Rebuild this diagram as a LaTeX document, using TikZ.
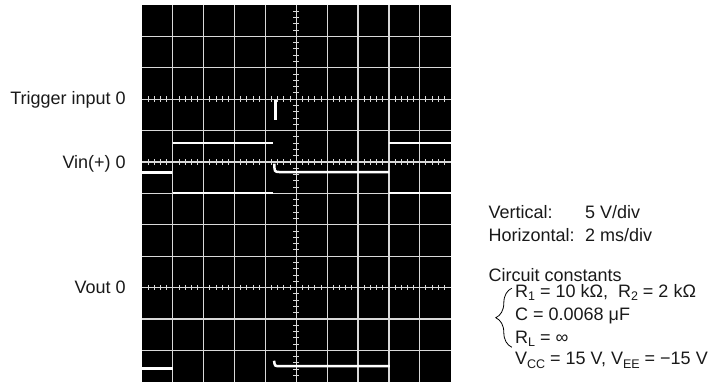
\documentclass[tikz,border=0pt]{standalone}
\usepackage{fontspec}
\setmainfont{Liberation Sans}
\usetikzlibrary{decorations.pathreplacing}
\newcommand{\lowidx}[1]{\raisebox{-0.35ex}{\fontsize{12.5bp}{12.5bp}\selectfont #1}}

\tikzset{
  grid line/.style={gray!30,line width=1.2bp},
  tick line/.style={gray!30,line width=1bp},
  trace/.style={white,line width=2.5bp},
  scope label/.style={font=\fontsize{18bp}{22bp}\selectfont,inner sep=0pt,text=black!90},
}

\begin{document}
\begin{tikzpicture}[x=30.87bp,y=-31.4bp]
 \useasboundingbox (-4.6,-0.159) rectangle (18.627,12.166);
 % screen and graticule
 \fill[black] (0,0) rectangle (10,12);
 \foreach \i in {1,...,9} \draw[grid line] (\i,0) -- (\i,12);
 \foreach \j in {1,...,11} \draw[grid line] (0,\j) -- (10,\j);
 \foreach \k in {1,...,59} \draw[tick line] (4.903,\k/5) -- (5.097,\k/5);
 \foreach \y in {3,5,9}
   \foreach \k in {1,...,49} \draw[tick line] (\k/5,\y-0.086) -- (\k/5,\y+0.086);

 % trigger
 \draw[trace] (4.33,3.04) -- (4.33,3.66);
 % input
 \draw[trace] (1.01,4.4) -- (4.25,4.4);
 \draw[trace] (8,4.4) -- (10,4.4);
 \draw[trace] (0,5.33) -- (0.96,5.33);
 \draw[trace] (4.29,5.05) .. controls (4.29,5.31) .. (4.45,5.32) -- (8,5.32);
 % output
 \draw[trace,line width=2bp] (1.01,6) -- (4.25,6);
 \draw[trace,line width=2bp] (8,6) -- (10,6);
 \draw[trace] (0,11.57) -- (1,11.57);
 \draw[trace] (4.28,11.33) .. controls (4.3,11.5) .. (4.45,11.5) -- (8.03,11.5);

 % channel labels
 \node[scope label,anchor=base east] (trig) at (-0.52,3.18) {Trigger input 0};
 \node[scope label,anchor=base east] (vin) at (-0.52,5.2) {Vin(+) 0};
 \node[scope label,anchor=base east] (vout) at (-0.52,9.18) {Vout 0};

 % settings
 \node[scope label,anchor=base west] (vert) at (11.22,6.79) {Vertical:};
 \node[scope label,anchor=base west] (vertval) at (14.35,6.79) {5 V/div};
 \node[scope label,anchor=base west] (hor) at (11.22,7.54) {Horizontal:};
 \node[scope label,anchor=base west] (horval) at (14.35,7.54) {2 ms/div};

 \node[scope label,anchor=base west] (consts) at (11.22,8.8) {Circuit constants};
 \node[scope label,anchor=base west] (res) at (12.08,9.31) {R\lowidx{1} = 10 kΩ,\ \ R\lowidx{2} = 2 kΩ};
 \node[scope label,anchor=base west] (cap) at (12.08,10.06) {C = 0.0068 μF};
 \node[scope label,anchor=base west] (load) at (12.08,10.77) {R\lowidx{L} = ∞};
 \node[scope label,anchor=base west] (supply) at (12.08,11.46) {V\lowidx{CC} = 15 V, V\lowidx{EE} = −15 V};
 \draw[line width=0.8bp,decorate,decoration={brace,amplitude=16bp}] (11.98,10.9) -- (11.98,9.02);
\end{tikzpicture}
\end{document}
